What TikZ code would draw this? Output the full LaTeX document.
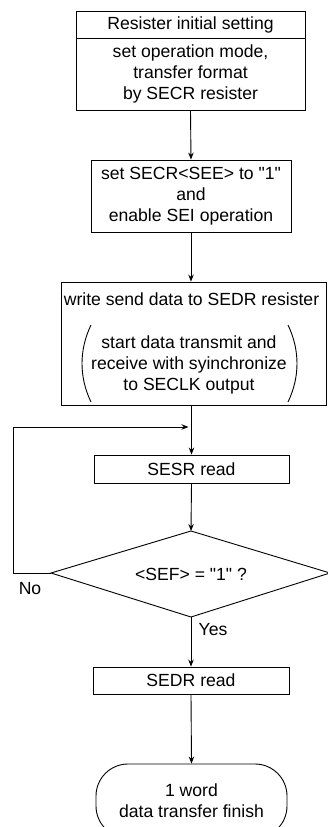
\documentclass[tikz,border=0pt]{standalone}
\usepackage{fontspec}
\setmainfont{Liberation Sans}[Ligatures=TeXOff]
\usetikzlibrary{shapes.geometric,arrows.meta}
\begin{document}
\begin{tikzpicture}[x=1pt,y=-1pt,
  line width=0.9pt,
  every node/.style={font=\fontsize{17.6}{21}\selectfont, align=center, inner sep=0pt},
  boxshape/.style={draw, rectangle},
  arr/.style={-{Stealth[length=7pt,width=5.5pt]}},
]
\useasboundingbox (0,0) rectangle (327,827);

% box 1
\node[boxshape, minimum width=229pt, minimum height=27pt] (b1h) at (190.5,24.5) {Resister initial setting};
\node[boxshape, minimum width=229pt, minimum height=72pt] (b1b) at (190.5,74) {set operation mode,\\transfer format\\by SECR resister};

% box 2
\node[boxshape, minimum width=200pt, minimum height=72pt] (b2) at (191,196) {set SECR<SEE> to "1"\\and\\enable SEI operation};

% box 3
\node[boxshape, minimum width=265.5pt, minimum height=123pt] (b3) at (193.75,343.5) {};
\node (b3t) at (191.5,299) {write send data to SEDR resister};
\node (b3p) at (189,365) {start data transmit and\\receive with syinchronize\\to SECLK output};
\draw (91,325) .. controls (79,350) and (79,377) .. (91,402);
\draw (288,325) .. controls (300,350) and (300,377) .. (288,402);

% SESR read
\node[boxshape, minimum width=195pt, minimum height=28pt] (sesr) at (191.5,469) {SESR read};

% decision
\coordinate (dn) at (191,531);
\coordinate (ds) at (191,617);
\coordinate (dw) at (51,573);
\coordinate (de) at (330,573);
\draw (dn) -- (de) -- (ds) -- (dw) -- cycle;
\node (dia) at (191,574) {<SEF> = "1" ?};
\node (no) at (30,589) {No};
\node (yes) at (213,630) {Yes};

% SEDR read
\node[boxshape, minimum width=196pt, minimum height=27pt] (sedr) at (191,680.5) {SEDR read};

% terminal
\node[draw, rectangle, rounded corners=32pt, minimum width=191pt, minimum height=74pt] (term) at (191.5,801) {1 word\\data transfer finish};

% connectors
\coordinate (j) at (191.5,427);
\coordinate (lc) at (13,427);
\draw[arr] (b1b.south) -- (b2.north);
\draw[arr] (b2.south) -- (b3.north -| b2.south);
\draw[arr] (b3.south -| j) -- (sesr.north);
\draw[arr] (sesr.south) -- (dn);
\draw[arr] (ds) -- (sedr.north);
\draw[arr] (sedr.south) -- (term.north);
\draw[arr, shorten >=3pt] (dw) -| (lc) -- (j);
\end{tikzpicture}
\end{document}
